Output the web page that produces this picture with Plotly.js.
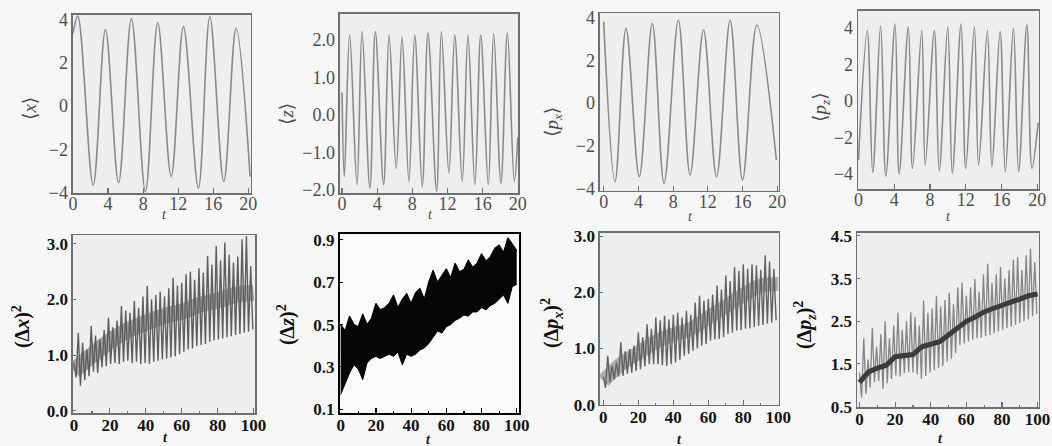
<!DOCTYPE html>
<html>
<head>
<meta charset="utf-8">
<script src="https://cdn.plot.ly/plotly-3.0.1.min.js"></script>
<style>html,body{margin:0;padding:0;background:#f7f7f7;}#chart{width:1052px;height:446px;}</style>
</head>
<body>
<div id="chart"></div>
<script>
// ---------- data ----------
// <x>(t): extrema
const xMeanT = [0, 0.55, 2.3, 3.7, 5.2, 6.66, 8.26, 9.66, 11.2, 12.6, 14.3, 15.6, 17.2, 18.6, 20.2];
const xMeanV = [3.37, 4.17, -3.66, 3.55, -3.55, 4.06, -3.97, 3.86, -3.27, 3.68, -3.81, 4.14, -3.5, 3.6, -3.27];
// <z>(t)
const zMeanT = [0, 0.26, 0.87, 1.7, 2.28, 3.17, 3.79, 4.73, 5.35, 6.17, 6.83, 7.61, 8.27, 9.13, 9.78, 10.76, 11.3, 12.16, 12.82, 13.68, 14.33, 15.12, 15.78, 16.64, 17.25, 18.08, 18.81, 19.6, 20.0];
const zMeanV = [0.6, -1.65, 2.14, -1.87, 2.23, -1.96, 2.23, -1.87, 2.14, -1.43, 2.08, -1.78, 2.14, -1.92, 2.2, -2.05, 2.23, -1.56, 2.14, -1.78, 2.14, -1.87, 2.14, -1.87, 2.18, -1.83, 2.2, -1.78, -0.6];
// <p_x>(t)
const pxMeanT = [0, 1.3, 2.57, 4.1, 5.6, 6.95, 8.6, 9.95, 11.5, 13.0, 14.57, 16.0, 17.65, 19.9];
const pxMeanV = [3.81, -3.69, 3.5, -3.45, 3.73, -3.76, 3.89, -3.37, 3.42, -3.45, 3.89, -3.6, 3.66, -2.67];
// <p_z>(t)
const pzMeanT = [0, 0.99, 1.6, 2.48, 3.06, 4.09, 4.55, 5.58, 6.05, 7.08, 7.47, 8.49, 9.04, 9.99, 10.5, 11.48, 12.0, 12.97, 13.44, 14.43, 14.93, 15.85, 16.43, 17.34, 17.92, 18.84, 19.41, 20.1];
const pzMeanV = [-3.23, 3.85, -3.92, 4.11, -4.11, 4.22, -4.0, 4.07, -3.69, 3.85, -3.5, 3.85, -3.82, 4.07, -3.96, 4.22, -3.69, 4.07, -3.5, 3.85, -3.6, 3.8, -3.87, 3.98, -3.87, 4.16, -3.69, -1.2];

// (Δx)^2: spike tops / troughs
const dx2Step = 2.4;
const dx2Hi = [0.85,1.40,1.22,1.10,1.52,1.35,1.28,1.45,1.67,1.50, 1.62,1.88,1.80,1.76,1.97,1.85,2.05,2.24,2.00,2.08, 2.14,2.05,2.20,2.39,2.25,2.30,2.45,2.50,2.35,2.56, 2.48,2.78,2.62,2.96,2.70,3.02,2.80,2.66,2.77,3.08, 3.14,2.60];
const dx2Lo = [0.60,0.45,0.55,0.62,0.70,0.68,0.78,0.80,0.84,0.86, 0.84,0.88,0.90,0.86,0.88,0.84,0.86,0.84,0.88,0.90, 0.92,0.94,0.96,0.98,1.02,1.06,1.10,1.12,1.16,1.18, 1.20,1.24,1.26,1.28,1.30,1.32,1.34,1.36,1.38,1.40, 1.42,1.46];
const coreT = [0,10,20,30,40,50,60,70,80,90,100];
const dx2Core = [0.72,1.0,1.25,1.45,1.58,1.7,1.78,1.9,1.98,2.08,2.12];

// (Δz)^2: band edges
const dz2T = [0,2.5,5,7.5,10,12.5,15,17.5,20,22.5,25,27.5,30,32.5,35,37.5,40,42.5,45,47.5,50,52.5,55,57.5,60,62.5,65,67.5,70,72.5,75,77.5,80,82.5,85,87.5,90,92.5,95,97.5,100];
const dz2Up = [0.50,0.47,0.54,0.50,0.49,0.55,0.50,0.53,0.60,0.57, 0.58,0.60,0.64,0.58,0.62,0.646,0.60,0.65,0.67,0.62, 0.70,0.757,0.70,0.73,0.764,0.72,0.79,0.75,0.76,0.805, 0.77,0.79,0.835,0.80,0.82,0.86,0.875,0.84,0.91,0.88, 0.85];
const dz2Low = [0.17,0.22,0.27,0.31,0.29,0.24,0.32,0.34,0.35,0.34, 0.35,0.36,0.35,0.37,0.31,0.36,0.35,0.36,0.38,0.39, 0.41,0.44,0.47,0.46,0.49,0.50,0.52,0.53,0.545,0.54, 0.56,0.56,0.58,0.57,0.59,0.60,0.62,0.64,0.60,0.68, 0.69];

// (Δp_x)^2
const dpx2Step = 2.5;
const dpx2Hi = [0.50,0.87,0.69,0.75,1.11,0.95,0.99,1.05,1.29,1.20, 1.43,1.35,1.55,1.50,1.58,1.52,1.60,1.64,1.55,1.67, 1.60,1.82,1.94,1.85,1.88,1.96,2.12,2.05,2.30,2.20, 2.45,2.38,2.50,2.42,2.50,2.48,2.40,2.66,2.55,2.42];
const dpx2Lo = [0.30,0.40,0.45,0.50,0.51,0.55,0.57,0.60,0.63,0.68, 0.72,0.72,0.72,0.70,0.69,0.72,0.75,0.80,0.87,0.90, 0.96,1.00,1.05,1.08,1.14,1.16,1.17,1.20,1.26,1.28, 1.32,1.33,1.35,1.36,1.38,1.40,1.42,1.44,1.46,1.50];
const dpx2Core = [0.42,0.72,0.92,1.12,1.25,1.35,1.55,1.75,1.95,2.12,2.15];

// (Δp_z)^2
const dpz2Step = 2.4;
const dpz2Hi = [1.3,2.1,1.6,2.34,1.9,2.2,2.5,2.1,2.4,2.7, 2.3,2.5,2.71,2.6,2.4,2.98,2.7,2.8,3.1,2.85, 3.0,3.17,2.9,3.3,3.41,3.1,3.3,3.49,3.2,3.6, 3.85,3.4,3.6,3.77,3.5,3.7,3.95,4.0,3.7,4.05, 4.2,3.89];
const dpz2Lo = [0.71,0.80,0.95,1.07,1.10,0.91,1.05,1.15,1.23,1.20, 1.28,1.31,1.30,1.25,1.15,1.22,1.30,1.35,1.40,1.45, 1.55,1.62,1.75,1.94,1.98,2.02,2.06,2.10,2.12,2.15, 2.18,2.22,2.26,2.30,2.34,2.38,2.42,2.46,2.50,2.55, 2.62,2.67];
const coreT8 = [0,5,10,15,20,25,30,35,40,45,50,55,60,65,70,75,80,85,90,95,100];
const dpz2Core = [1.07,1.31,1.40,1.47,1.67,1.70,1.72,1.90,1.95,2.02,2.18,2.35,2.50,2.60,2.72,2.80,2.86,2.95,3.02,3.10,3.14];

// ---------- helpers ----------
function zigzag(hi, lo, step) {
  const x = [], y = [];
  hi.forEach((h, k) => { x.push(k * step); y.push(h); x.push(k * step + step / 2); y.push(lo[k]); });
  return {x, y};
}
const SERIF = 'Liberation Serif, DejaVu Serif, serif';
const topFont = {family: SERIF, size: 18, color: '#4e4e4e'};
const botFont = {family: SERIF, size: 17, color: '#141414', weight: 'bold'};
const grayLine = '#707070';

const traces = [];
const topCurve = {mode: 'lines', line: {color: '#8a8a8a', width: 1.6, shape: 'spline', smoothing: 1}, hoverinfo: 'skip'};
traces.push(Object.assign({x: xMeanT, y: xMeanV, xaxis: 'x', yaxis: 'y'}, topCurve));
traces.push(Object.assign({x: zMeanT, y: zMeanV, xaxis: 'x2', yaxis: 'y2'}, topCurve));
traces.push(Object.assign({x: pxMeanT, y: pxMeanV, xaxis: 'x3', yaxis: 'y3'}, topCurve));
traces.push(Object.assign({x: pzMeanT, y: pzMeanV, xaxis: 'x4', yaxis: 'y4'}, topCurve));

const z5 = zigzag(dx2Hi, dx2Lo, dx2Step);
traces.push({x: coreT, y: dx2Core, xaxis: 'x5', yaxis: 'y5', mode: 'lines', line: {color: 'rgba(50,50,50,0.4)', width: 16, shape: 'spline'}});
traces.push({x: z5.x, y: z5.y, xaxis: 'x5', yaxis: 'y5', mode: 'lines', line: {color: '#5e5e5e', width: 1.4}});

traces.push({x: dz2T, y: dz2Low, xaxis: 'x6', yaxis: 'y6', mode: 'lines', line: {color: '#000', width: 1}});
traces.push({x: dz2T, y: dz2Up, xaxis: 'x6', yaxis: 'y6', mode: 'lines', fill: 'tonexty', fillcolor: '#050505', line: {color: '#000', width: 1.2}});

const z7 = zigzag(dpx2Hi, dpx2Lo, dpx2Step);
traces.push({x: coreT, y: dpx2Core, xaxis: 'x7', yaxis: 'y7', mode: 'lines', line: {color: 'rgba(50,50,50,0.35)', width: 14, shape: 'spline'}});
traces.push({x: z7.x, y: z7.y, xaxis: 'x7', yaxis: 'y7', mode: 'lines', line: {color: '#626262', width: 1.4}});

const z8 = zigzag(dpz2Hi, dpz2Lo, dpz2Step);
traces.push({x: z8.x, y: z8.y, xaxis: 'x8', yaxis: 'y8', mode: 'lines', line: {color: '#858585', width: 1.3}});
traces.push({x: coreT8, y: dpz2Core, xaxis: 'x8', yaxis: 'y8', mode: 'lines', line: {color: '#3c3c3c', width: 5}});

// ---------- layout ----------
function xa(dom, rng, dtick, font, lc, lw, minor, standoff) {
  const a = {domain: dom, range: rng, dtick: dtick, tick0: 0, showgrid: false, zeroline: false,
    showline: true, mirror: true, linecolor: lc, linewidth: lw, ticks: 'inside', ticklen: 5, tickwidth: 1.2,
    tickcolor: lc, tickfont: font, fixedrange: true, ticklabelstandoff: standoff};
  if (minor) a.minor = {ticks: 'inside', ticklen: 2, dtick: 10, tickcolor: lc};
  return a;
}
function ya(dom, rng, tick0, dtick, fmt, font, lc, lw, ticklen) {
  return {domain: dom, range: rng, tick0: tick0, dtick: dtick, tickformat: fmt, showgrid: false, zeroline: false,
    showline: true, mirror: true, linecolor: lc, linewidth: lw, ticks: ticklen ? 'inside' : '', ticklen: ticklen || 0,
    tickcolor: lc, tickfont: font, fixedrange: true};
}
const layout = {
  width: 1052, height: 446, margin: {l: 0, r: 0, t: 0, b: 0},
  paper_bgcolor: '#f7f7f7', plot_bgcolor: '#eeeeee', showlegend: false,
  xaxis:  Object.assign(xa([0.06939, 0.23859], [0, 20.3], 4, topFont, grayLine, 1.5, false, -6), {anchor: 'y'}),
  yaxis:  Object.assign(ya([0.56726, 0.96637], [-4.03, 4.22], 0, 2, '', topFont, grayLine, 1.5), {anchor: 'x'}),
  xaxis2: Object.assign(xa([0.32319, 0.49240], [-0.23, 20.02], 4, topFont, grayLine, 1.5, false, -6), {anchor: 'y2'}),
  yaxis2: Object.assign(ya([0.56726, 0.96861], [-2.09, 2.70], 0, 1, '.1f', topFont, grayLine, 1.5), {anchor: 'x2'}),
  xaxis3: Object.assign(xa([0.57034, 0.74049], [-0.43, 20.2], 4, topFont, grayLine, 1.5, false, -6), {anchor: 'y3'}),
  yaxis3: Object.assign(ya([0.57175, 0.97085], [-4.12, 4.22], 0, 2, '', topFont, grayLine, 1.5), {anchor: 'x3'}),
  xaxis4: Object.assign(xa([0.81559, 0.98764], [-0.05, 20.2], 4, topFont, grayLine, 1.5, false, -6), {anchor: 'y4'}),
  yaxis4: Object.assign(ya([0.57623, 0.97534], [-4.82, 4.93], 0, 2, '', topFont, grayLine, 1.5), {anchor: 'x4'}),
  xaxis5: Object.assign(xa([0.06939, 0.24240], [-0.55, 100.8], 20, botFont, grayLine, 1.5, true, -4), {anchor: 'y5'}),
  yaxis5: Object.assign(ya([0.07399, 0.47309], [-0.04, 3.156], 0, 1, '.1f', botFont, grayLine, 1.5, 3), {anchor: 'x5'}),
  xaxis6: Object.assign(xa([0.32319, 0.49335], [-0.4, 101.3], 20, botFont, '#000', 2, true, -4), {anchor: 'y6'}),
  yaxis6: Object.assign(ya([0.07399, 0.47534], [0.0825, 0.928], 0.1, 0.2, '.1f', botFont, '#000', 2, 3), {anchor: 'x6'}),
  xaxis7: Object.assign(xa([0.57034, 0.74049], [-1.9, 100.4], 20, botFont, grayLine, 1.5, true, -4), {anchor: 'y7'}),
  yaxis7: Object.assign(ya([0.09193, 0.47758], [-0.007, 3.056], 0, 1, '.1f', botFont, grayLine, 1.5, 3), {anchor: 'x7'}),
  xaxis8: Object.assign(xa([0.81464, 0.98764], [-1.4, 100.8], 20, botFont, grayLine, 1.5, true, -4), {anchor: 'y8'}),
  yaxis8: Object.assign(ya([0.08744, 0.47758], [0.49, 4.57], 0.5, 1, '.1f', botFont, grayLine, 1.5, 3), {anchor: 'x8'}),
  shapes: [{type: 'rect', xref: 'x6 domain', yref: 'y6 domain', x0: 0, x1: 1, y0: 0, y1: 1,
            fillcolor: '#fbfbfb', line: {width: 0}, layer: 'below'}],
  annotations: []
};

const yTitleTop = {family: SERIF, size: 19, color: '#4a4a4a'};
const yTitleBot = {family: SERIF, size: 20, color: '#111', weight: 'bold'};
const ann = (text, x, y, font, angle) => ({text, x, y, xref: 'paper', yref: 'paper', showarrow: false,
  textangle: angle, font, xanchor: 'center', yanchor: 'middle'});
layout.annotations.push(
  ann('⟨<i>x</i>⟩', 0.0276, 0.7556, yTitleTop, -90),
  ann('⟨<i>z</i>⟩', 0.2728, 0.7444, yTitleTop, -90),
  ann('⟨<i>p</i><sub><i>x</i></sub>⟩', 0.5257, 0.7265, yTitleTop, -90),
  ann('⟨<i>p</i><sub><i>z</i></sub>⟩', 0.7804, 0.7601, yTitleTop, -90),
  ann('(Δ<i>x</i>)<sup>2</sup>', 0.0200, 0.2668, yTitleBot, -90),
  ann('(Δ<i>z</i>)<sup>2</sup>', 0.2719, 0.2713, yTitleBot, -90),
  ann('(Δ<i>p</i><sub><i>x</i></sub>)<sup>2</sup>', 0.5247, 0.2758, yTitleBot, -90),
  ann('(Δ<i>p</i><sub><i>z</i></sub>)<sup>2</sup>', 0.7652, 0.2713, yTitleBot, -90)
);
const tTop = {family: SERIF, size: 14, color: '#4a4a4a'};
const tBot = {family: SERIF, size: 14, color: '#111', weight: 'bold'};
layout.annotations.push(
  ann('<i>t</i>', 164/1052, 1 - 215/446, tTop, 0),
  ann('<i>t</i>', 430/1052, 1 - 215/446, tTop, 0),
  ann('<i>t</i>', 690/1052, 1 - 216/446, tTop, 0),
  ann('<i>t</i>', 948/1052, 1 - 217/446, tTop, 0),
  ann('<i>t</i>', 165/1052, 1 - 437/446, tBot, 0),
  ann('<i>t</i>', 428/1052, 1 - 439/446, tBot, 0),
  ann('<i>t</i>', 679/1052, 1 - 439/446, tBot, 0),
  ann('<i>t</i>', 940/1052, 1 - 438/446, tBot, 0)
);

Plotly.newPlot('chart', traces, layout, {staticPlot: true, displayModeBar: false});
</script>
</body>
</html>
